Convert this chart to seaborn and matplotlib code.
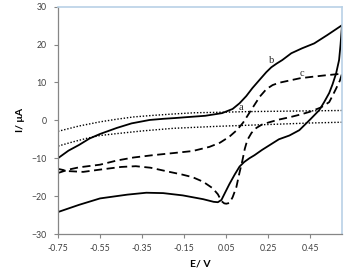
import matplotlib
matplotlib.use("Agg")
import matplotlib.pyplot as plt
import seaborn as sns
import pandas as pd

# Curve a (dotted) - forward and reverse branches
a_fwd_E = [-0.75, -0.65, -0.55, -0.47, -0.39, -0.30, -0.195, -0.10, 0.0, 0.15, 0.30, 0.45, 0.60]
a_fwd_I = [-2.9, -1.5, -0.4, 0.3, 0.9, 1.3, 1.7, 2.0, 2.1, 2.3, 2.4, 2.5, 2.6]
a_rev_E = [0.60, 0.45, 0.30, 0.15, 0.0, -0.20, -0.35, -0.47, -0.55, -0.61, -0.68, -0.75]
a_rev_I = [-0.5, -0.7, -1.0, -1.3, -1.6, -2.1, -2.8, -3.5, -4.0, -4.7, -5.7, -6.8]

# Curve b (solid)
b_E = [-0.75, -0.70, -0.65, -0.60, -0.55, -0.47, -0.40, -0.314, -0.25, -0.195, -0.124, -0.05,
       0.03, 0.08, 0.113, 0.145, 0.174, 0.21, 0.24, 0.264, 0.29, 0.316, 0.359, 0.41, 0.468,
       0.53, 0.60,
       0.593, 0.586, 0.572, 0.555, 0.539, 0.515, 0.492, 0.45, 0.397, 0.35, 0.30, 0.22, 0.184,
       0.16, 0.135, 0.113, 0.09, 0.065, 0.045, 0.027, 0.01, -0.01, -0.06, -0.157, -0.25,
       -0.33, -0.42, -0.55, -0.65, -0.75]
b_I = [-10.0, -8.0, -6.5, -4.8, -3.6, -2.0, -0.8, 0.1, 0.4, 0.6, 0.9, 1.2,
       1.9, 3.0, 4.5, 6.4, 8.5, 10.8, 12.7, 14.0, 15.0, 15.9, 17.7, 19.0, 20.3,
       22.5, 25.1,
       20.0, 15.9, 12.4, 9.5, 7.2, 4.8, 2.7, 0.3, -2.6, -4.0, -5.0, -7.8, -9.2,
       -10.0, -11.0, -12.2, -14.3, -16.8, -19.0, -21.0, -21.6, -21.5, -20.8, -19.8, -19.2,
       -19.1, -19.6, -20.6, -22.3, -24.2]

# Curve c (dashed)
c_E = [-0.75, -0.70, -0.65, -0.55, -0.47, -0.39, -0.30, -0.195, -0.11, -0.03, 0.02, 0.065,
       0.10, 0.13, 0.16, 0.19, 0.21, 0.24, 0.27, 0.30, 0.35, 0.40, 0.46, 0.525, 0.60,
       0.59, 0.572, 0.555, 0.539, 0.50, 0.444, 0.40, 0.35, 0.30, 0.255, 0.22, 0.193, 0.17,
       0.15, 0.138, 0.127, 0.112, 0.098, 0.08, 0.065, 0.05, 0.04, 0.027, 0.01, -0.015,
       -0.06, -0.11, -0.16, -0.22, -0.31, -0.38, -0.45, -0.55, -0.63, -0.70, -0.75]
c_I = [-13.9, -13.0, -12.4, -11.7, -10.6, -9.8, -9.2, -8.6, -8.1, -7.0, -5.9, -4.3,
       -2.6, -0.6, 2.0, 4.6, 6.3, 8.2, 9.3, 9.9, 10.5, 11.1, 11.5, 11.9, 12.3,
       10.5, 8.4, 6.5, 4.8, 3.4, 2.2, 1.5, 0.8, 0.2, -0.5, -1.1, -2.0, -3.3,
       -5.2, -7.5, -10.5, -14.0, -17.6, -20.3, -21.8, -22.0, -21.9, -21.3, -19.5, -17.9,
       -16.2, -15.0, -14.3, -13.6, -12.5, -12.1, -12.3, -13.0, -13.6, -13.4, -12.8]

x_ticks = [-0.75, -0.55, -0.35, -0.15, 0.05, 0.25, 0.45]
x_tick_labels = ["-0.75", "-0.55", "-0.35", "-0.15", "0.05", "0.25", "0.45"]
y_ticks = [-30, -20, -10, 0, 10, 20, 30]

sns.set_theme(style="white")
plt.rcParams["font.family"] = ["Lato", "DejaVu Sans"]

fig = plt.figure(figsize=(3.49, 2.76), dpi=100)
ax = fig.add_axes([0.166, 0.152, 0.814, 0.824])

def seg(E, I):
    return pd.DataFrame({"E": E, "I": I, "order": range(len(E))})

kw = dict(x="E", y="I", sort=False, estimator=None, ax=ax, color="black", legend=False)
sns.lineplot(data=seg(a_fwd_E, a_fwd_I), lw=1.0, linestyle=(0, (1, 1.3)), **kw)
sns.lineplot(data=seg(a_rev_E, a_rev_I), lw=1.0, linestyle=(0, (1, 1.3)), **kw)
sns.lineplot(data=seg(c_E, c_I), lw=1.3, linestyle=(0, (4.5, 2.5)), **kw)
sns.lineplot(data=seg(b_E, b_I), lw=1.3, linestyle="-", **kw)

ax.set_xlim(-0.75, 0.6)
ax.set_ylim(-30, 30)
ax.set_xticks(x_ticks)
ax.set_xticklabels(x_tick_labels)
ax.set_yticks(y_ticks)
ax.tick_params(axis="both", labelsize=6.3, colors="#404040", length=3, width=0.8,
               direction="out", pad=2)
ax.tick_params(axis="both", color="#868686")
ax.tick_params(axis="x", pad=4)
ax.tick_params(axis="y", pad=5)
ax.xaxis.set_ticks_position("bottom")
ax.yaxis.set_ticks_position("left")

for s in ["left", "bottom"]:
    ax.spines[s].set_color("#868686")
    ax.spines[s].set_linewidth(0.9)
for s in ["top", "right"]:
    ax.spines[s].set_color("#b9d1e6")
    ax.spines[s].set_linewidth(1.2)

ax.set_xlabel("E/ V", fontsize=7.5, fontweight="bold", color="black", labelpad=5)
ax.set_ylabel("I/ μA", fontsize=7.5, fontweight="bold", color="black", labelpad=5)

serif = ["Liberation Serif", "DejaVu Serif"]
ax.text(0.12, 2.7, "a", family=serif, fontsize=7.5, ha="center", va="baseline")
ax.text(0.265, 15.0, "b", family=serif, fontsize=7.5, ha="center", va="baseline")
ax.text(0.41, 11.8, "c", family=serif, fontsize=7.5, ha="center", va="baseline")

fig.savefig("out.png", dpi=100)
